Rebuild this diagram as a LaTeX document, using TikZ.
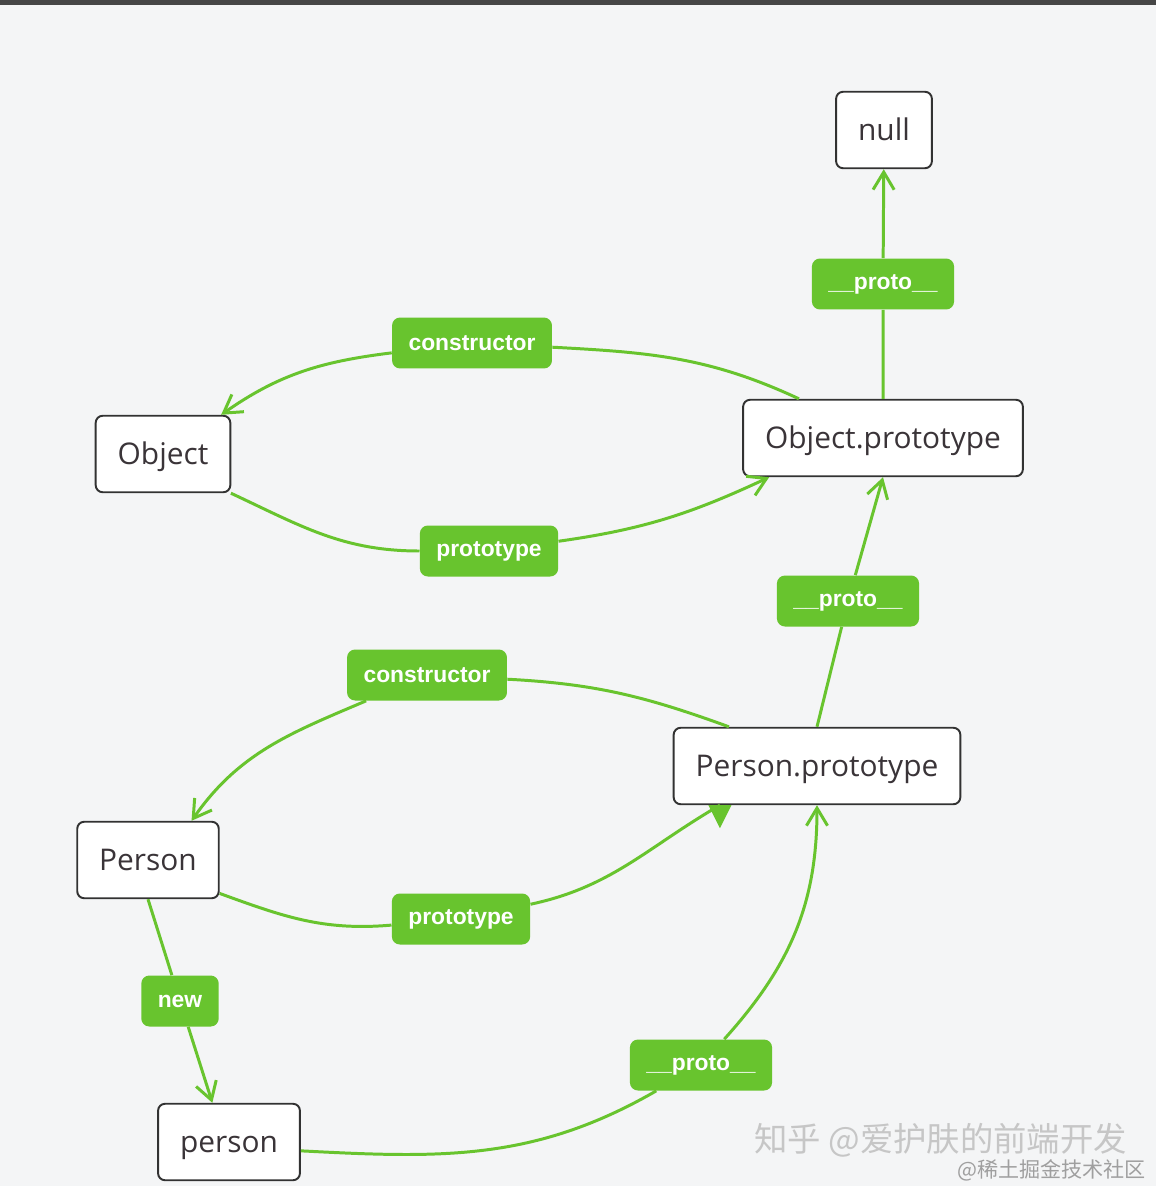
\documentclass[tikz,border=0pt]{standalone}
\usepackage{fontspec}
\setmainfont{Open Sans}
\newfontfamily\tagfont{Liberation Sans}
\newfontfamily\cjk{Noto Sans CJK SC}
\usetikzlibrary{arrows.meta}

\definecolor{bgcol}{RGB}{244,245,246}
\definecolor{topbar}{RGB}{70,70,70}
\definecolor{boxline}{RGB}{50,50,50}
\definecolor{textgray}{RGB}{58,52,56}
\definecolor{linkgreen}{RGB}{104,196,46}

\begin{document}
\begin{tikzpicture}[x=0.02cm, y=0.02cm]
    \tikzstyle{box} = [rectangle, rounded corners=0.14cm, draw=boxline, line width=1.1pt, fill=white, minimum height=1.53cm, inner xsep=0.44cm, text height=14.6pt, text depth=2.6pt, text=textgray, font=\fontsize{17}{20}\selectfont]
    \tikzstyle{tag} = [rectangle, rounded corners=0.16cm, fill=linkgreen, minimum height=1.02cm, inner xsep=0.33cm, text=white, font=\tagfont\bfseries\fontsize{13}{15}\selectfont]
    \tikzstyle{link} = [linkgreen, line width=1.7pt]
    \tikzstyle{arrow} = [link, -{Straight Barb[length=10pt, width=12pt]}]

    \useasboundingbox (0,0) rectangle (1156,-1186);
    \fill [bgcol] (0,0) rectangle (1156,-1186);
    \fill [topbar] (0,0) rectangle (1156,-5);

    % objects
    \node (null) [box] at (884,-130) {null};
    \node (objproto) [box] at (883,-438) {Object.prototype};
    \node (object) [box] at (163,-454) {Object};
    \node (personproto) [box] at (817,-766) {Person.prototype};
    \node (Person) [box] at (148,-860) {Person};
    \node (person) [box] at (229,-1142) {person};

    % labels on the links
    \node (protoup) [tag] at (883,-284) {\_\_proto\_\_};
    \node (ctorup) [tag] at (472,-343) {constructor};
    \node (prototypeup) [tag] at (489,-551) {prototype};
    \node (protomid) [tag] at (848,-601) {\_\_proto\_\_};
    \node (ctordown) [tag] at (427,-675) {constructor};
    \node (prototypedown) [tag] at (461,-919) {prototype};
    \node (newlabel) [tag] at (180,-1001) {new};
    \node (protodown) [tag] at (701,-1065) {\_\_proto\_\_};

    \draw [arrow] (objproto) -- (protoup) -- (null);
    \draw [arrow] (objproto.155) to[out=155, in=-3] (ctorup) to[out=187, in=35] (object.34);
    \draw [arrow] (object.-30) to[out=-25, in=180] (prototypeup) to[out=8, in=-155] (objproto.199);
    \draw [arrow] (personproto.north) -- (protomid) -- (objproto.south);
    \draw [arrow] (personproto.156) to[out=160, in=-3] (ctordown) to[out=203, in=55] (Person.42);
    \draw [link] (Person.-25) to[out=-20, in=185] (prototypedown) to[out=12, in=-150] (personproto.202);
    \fill [linkgreen] (personproto.202) ++(-11.5,0) -- ++(23,0) -- ++(-11.5,-23) -- cycle;
    \draw [arrow] (Person.south) -- (newlabel) -- (person.113);
    \draw [arrow] (person.-7) to[out=-3, in=-150] (protodown) to[out=48, in=-90] (personproto.south);

    % watermark
    \node (markzhihu) [anchor=west, text=gray!45, font=\cjk\fontsize{19}{22}\selectfont] at (748,-1140) {知乎 @爱护肤的前端开发};
    \node (markjuejin) [anchor=east, text=gray!75, font=\cjk\fontsize{12}{14}\selectfont] at (1152,-1170) {@稀土掘金技术社区};
\end{tikzpicture}
\end{document}
